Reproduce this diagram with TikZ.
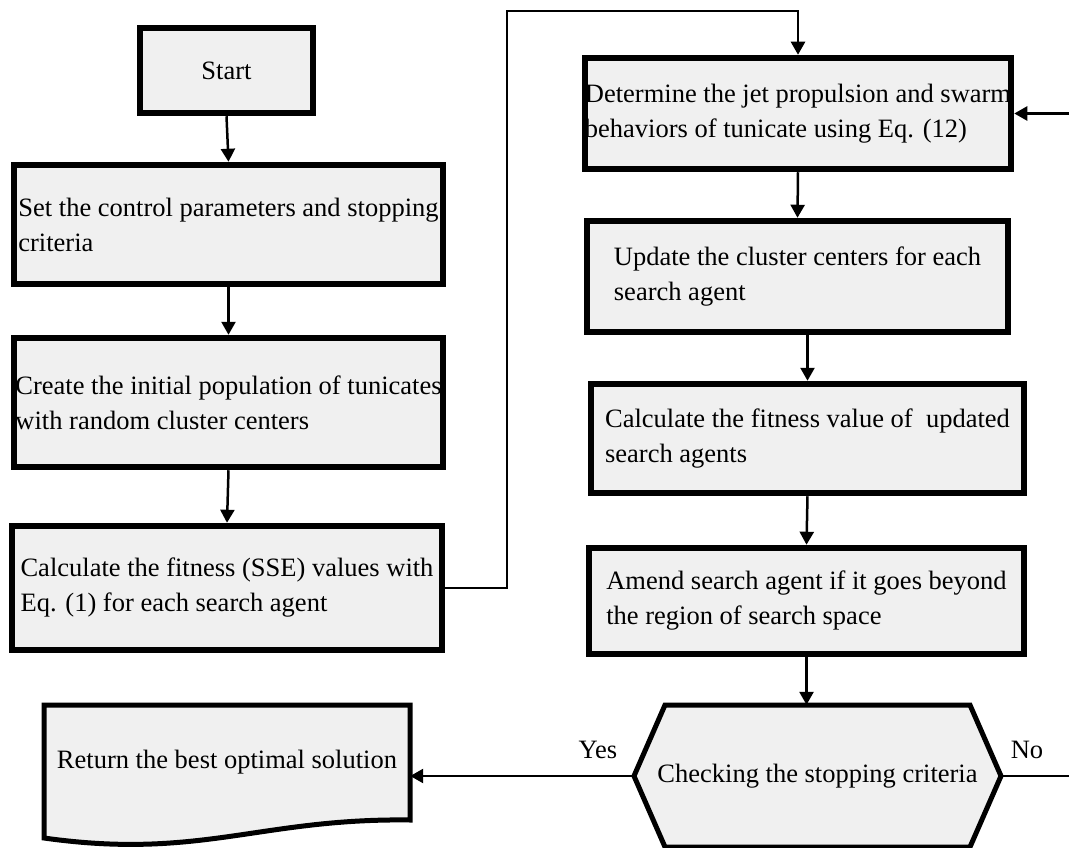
\documentclass[tikz,border=0pt]{standalone}
\usepackage{fontspec}
\setmainfont{Liberation Serif}
\usetikzlibrary{arrows.meta}
\definecolor{boxgray}{RGB}{240,240,240}
\begin{document}
\begin{tikzpicture}[x=1pt, y=-1pt,
    font=\fontsize{26.5}{35}\selectfont,
    stepbox/.style={draw, line width=6.5pt, fill=boxgray, align=left, inner sep=0pt},
    flow/.style={line width=2.5pt, -{Triangle[length=13pt,width=14pt]}}]
    \useasboundingbox (0,0) rectangle (1069,848);
    \node[stepbox, minimum width=173pt, minimum height=85pt] (start) at (226.5,70.5) {Start};
    \node[stepbox, minimum width=429pt, minimum height=119pt] (set) at (228.5,224.5)
        {Set the control parameters and stopping\\criteria};
    \node[stepbox, minimum width=429pt, minimum height=129pt] (create) at (228.5,402.5)
        {Create the initial population of tunicates\\with random cluster centers};
    \node[stepbox, minimum width=430pt, minimum height=124pt] (fitcalc) at (227,588)
        {Calculate the fitness (SSE) values with\\Eq. (1) for each search agent};
    \node[stepbox, minimum width=422pt, minimum height=111pt] (determine) at (798,113.5)
        {Determine the jet propulsion and swarm\\behaviors of tunicate using Eq. (12)};
    \node[stepbox, minimum width=421pt, minimum height=111pt] (update) at (797.5,276.5)
        {Update the cluster centers for each\\search agent};
    \node[stepbox, minimum width=433pt, minimum height=109pt] (refit) at (807.5,438.5)
        {Calculate the fitness value of~ updated\\search agents};
    \node[stepbox, minimum width=435pt, minimum height=106pt] (amend) at (806.5,601)
        {Amend search agent if it goes beyond\\the region of search space};
    \begin{scope}[line width=5pt, fill=boxgray, line join=miter]
    \filldraw
        (665,705)--(970,705)--(1001,776)--(970,847)--(665,847)--(634,776)--cycle;
    \filldraw
        (44,705)--(410,705)--(410,820) .. controls (260,818) and (200,860) .. (44,838)--cycle;
    \end{scope}
    \node[minimum width=305pt, minimum height=142pt, inner sep=0pt] (check) at (817.5,776)
        {Checking the stopping criteria};
    \node[minimum width=366pt, inner sep=0pt] (result) at (227,762)
        {Return the best optimal solution};
    \node (yes) at (598,750) {Yes};
    \node (no) at (1027,750) {No};
    \coordinate (chkL) at (634,776);
    \coordinate (chkR) at (1001,776);
    \coordinate (loopA) at (507,11);
    \coordinate (loopB) at (1090,776);
    \draw[flow] (start.south) -- (set.north);
    \draw[flow] (set.south) -- (create.north);
    \draw[flow] (create.south) -- (fitcalc.north);
    \draw[flow] (fitcalc.east) -| (loopA) -| (determine.north);
    \draw[flow] (determine.south) -- (update.north);
    \draw[flow] (update.south -| refit.north) -- (refit.north);
    \draw[flow] (refit.south) -- (amend.north);
    \draw[flow] (amend.south) -- (amend.south |- check.north);
    \draw[flow] (chkL) -- (chkL -| result.east);
    \draw[flow] (chkR) -- (loopB) |- (determine.east);
\end{tikzpicture}
\end{document}
